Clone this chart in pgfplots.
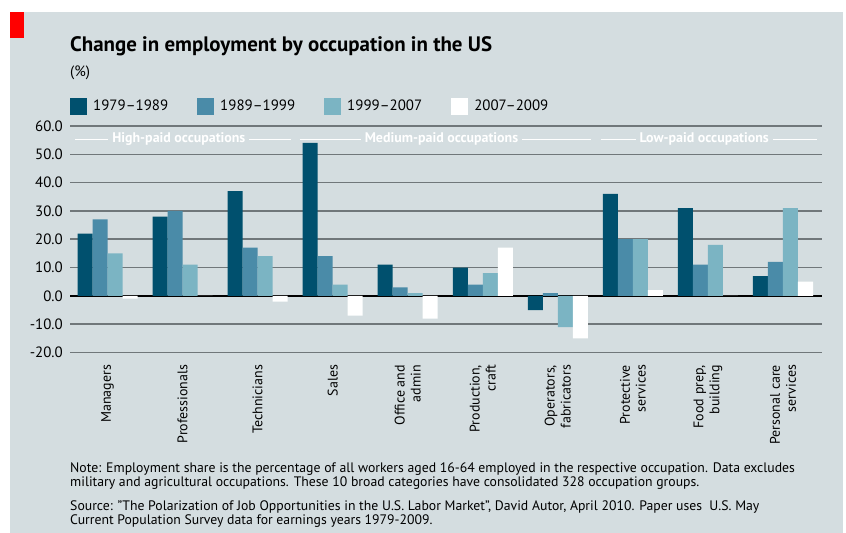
\documentclass[border=0pt]{standalone}
\usepackage{fontspec}
\setmainfont{PT Sans}
\usepackage{pgfplots}
\pgfplotsset{compat=1.18}
\definecolor{panel}{HTML}{D4DDE0}
\definecolor{cA}{HTML}{00506E}
\definecolor{cB}{HTML}{4A8BA8}
\definecolor{cC}{HTML}{7BB4C3}
\definecolor{gridc}{HTML}{70777A}
\newcommand{\tf}{\fontsize{14}{16}\selectfont}
\newcommand{\yf}{\fontsize{15}{16}\selectfont}
\newcommand{\lf}{\fontsize{15}{16}\selectfont}
\newcommand{\nf}{\fontsize{13.8}{14}\selectfont}
\begin{document}
\begin{tikzpicture}
\useasboundingbox (0,0) rectangle (846bp,533bp);
\fill[white] (0,0) rectangle (846bp,533bp);
\fill[panel] (10bp,0) rectangle (843bp,521bp);
\fill[red] (10bp,495bp) rectangle (24bp,521bp);
\node[anchor=base west, inner sep=0pt, font=\fontsize{21}{22}\selectfont\bfseries] at (70bp,481bp) {Change in employment by occupation in the US};
\node[anchor=base west, inner sep=0pt, font=\lf] at (70bp,456bp) {(\%)};
\node[anchor=base west, inner sep=0pt, font=\nf] at (70bp,60.5bp) {Note: Employment share is the percentage of all workers aged 16-64 employed in the respective occupation. Data excludes};
\node[anchor=base west, inner sep=0pt, font=\nf] at (70bp,46.3bp) {military and agricultural occupations. These 10 broad categories have consolidated 328 occupation groups.};
\node[anchor=base west, inner sep=0pt, font=\nf] at (70bp,23bp) {Source: "The Polarization of Job Opportunities in the U.S. Labor Market", David Autor, April 2010. Paper uses\ \ U.S. May};
\node[anchor=base west, inner sep=0pt, font=\nf] at (70bp,9bp) {Current Population Survey data for earnings years 1979-2009.};
\begin{axis}[
  at={(70bp,180.5bp)}, anchor=south west,
  scale only axis, width=752bp, height=226.5bp,
  xmin=-0.5, xmax=9.52, ymin=-20, ymax=60,
  ybar, bar width=0.2,
  axis line style={draw=none}, tick style={draw=none},
  ytick={-20,-10,...,60},
  yticklabels={-20.0,-10.0,0.0,10.0,20.0,30.0,40.0,50.0,60.0},
  yticklabel style={anchor=east, inner sep=0pt, font=\yf},
  yticklabel shift=7bp,
  ymajorgrids, grid style={color=gridc, line width=1.5bp},
  xtick={0,...,9},
  xticklabels={Managers, Professionals, Technicians, Sales, {Office and\\admin}, {Production,\\craft}, {Operators,\\fabricators}, {Protective\\services}, {Food prep,\\building}, {Personal care\\services}},
  xticklabel style={rotate=90, anchor=east, align=right, inner sep=0pt, font=\tf},
  xticklabel shift=8bp,
  legend columns=4,
  legend style={at={(0,1)}, anchor=south west, yshift=11bp, draw=none, fill=none, inner sep=0pt, font=\lf,
    nodes={inner sep=0pt, anchor=west},
    /tikz/every odd column/.append style={column sep=6bp},
    /tikz/every even column/.append style={column sep=29bp}},
  legend image code/.code={\draw[#1,/tikz/.cd,draw=none] (0bp,-8.5bp) rectangle (17bp,8.5bp);},
]
\draw[black, line width=1.8bp] (axis cs:-0.5,0) -- (axis cs:9.52,0);
\addplot[fill=cA, draw=none, bar shift=-0.3] coordinates {(0,22) (1,28) (2,37) (3,54) (4,11) (5,10) (6,-5) (7,36) (8,31) (9,7)};
\addplot[fill=cB, draw=none, bar shift=-0.1] coordinates {(0,27) (1,30) (2,17) (3,14) (4,3) (5,4) (6,1) (7,20) (8,11) (9,12)};
\addplot[fill=cC, draw=none, bar shift=0.1] coordinates {(0,15) (1,11) (2,14) (3,4) (4,1) (5,8) (6,-11) (7,20) (8,18) (9,31)};
\addplot[fill=white, draw=none, bar shift=0.3] coordinates {(0,-1) (1,0) (2,-2) (3,-7) (4,-8) (5,17) (6,-15) (7,2) (8,0) (9,5)};
\legend{1979--1989, 1989--1999, 1999--2007, 2007--2009}
\draw[white, line width=1bp] (axis cs:-0.43,55.4) -- (axis cs:2.45,55.4);
\draw[white, line width=1bp] (axis cs:2.56,55.4) -- (axis cs:6.44,55.4);
\draw[white, line width=1bp] (axis cs:6.57,55.4) -- (axis cs:9.45,55.4);
\node[fill=panel, text=white, inner xsep=4bp, inner ysep=1bp, font=\fontsize{14}{15}\selectfont\bfseries] at (axis cs:0.95,55.4) {High-paid occupations};
\node[fill=panel, text=white, inner xsep=4bp, inner ysep=1bp, font=\fontsize{14}{15}\selectfont\bfseries] at (axis cs:4.45,55.4) {Medium-paid occupations};
\node[fill=panel, text=white, inner xsep=4bp, inner ysep=1bp, font=\fontsize{14}{15}\selectfont\bfseries] at (axis cs:7.95,55.4) {Low-paid occupations};
\end{axis}
\end{tikzpicture}
\end{document}
